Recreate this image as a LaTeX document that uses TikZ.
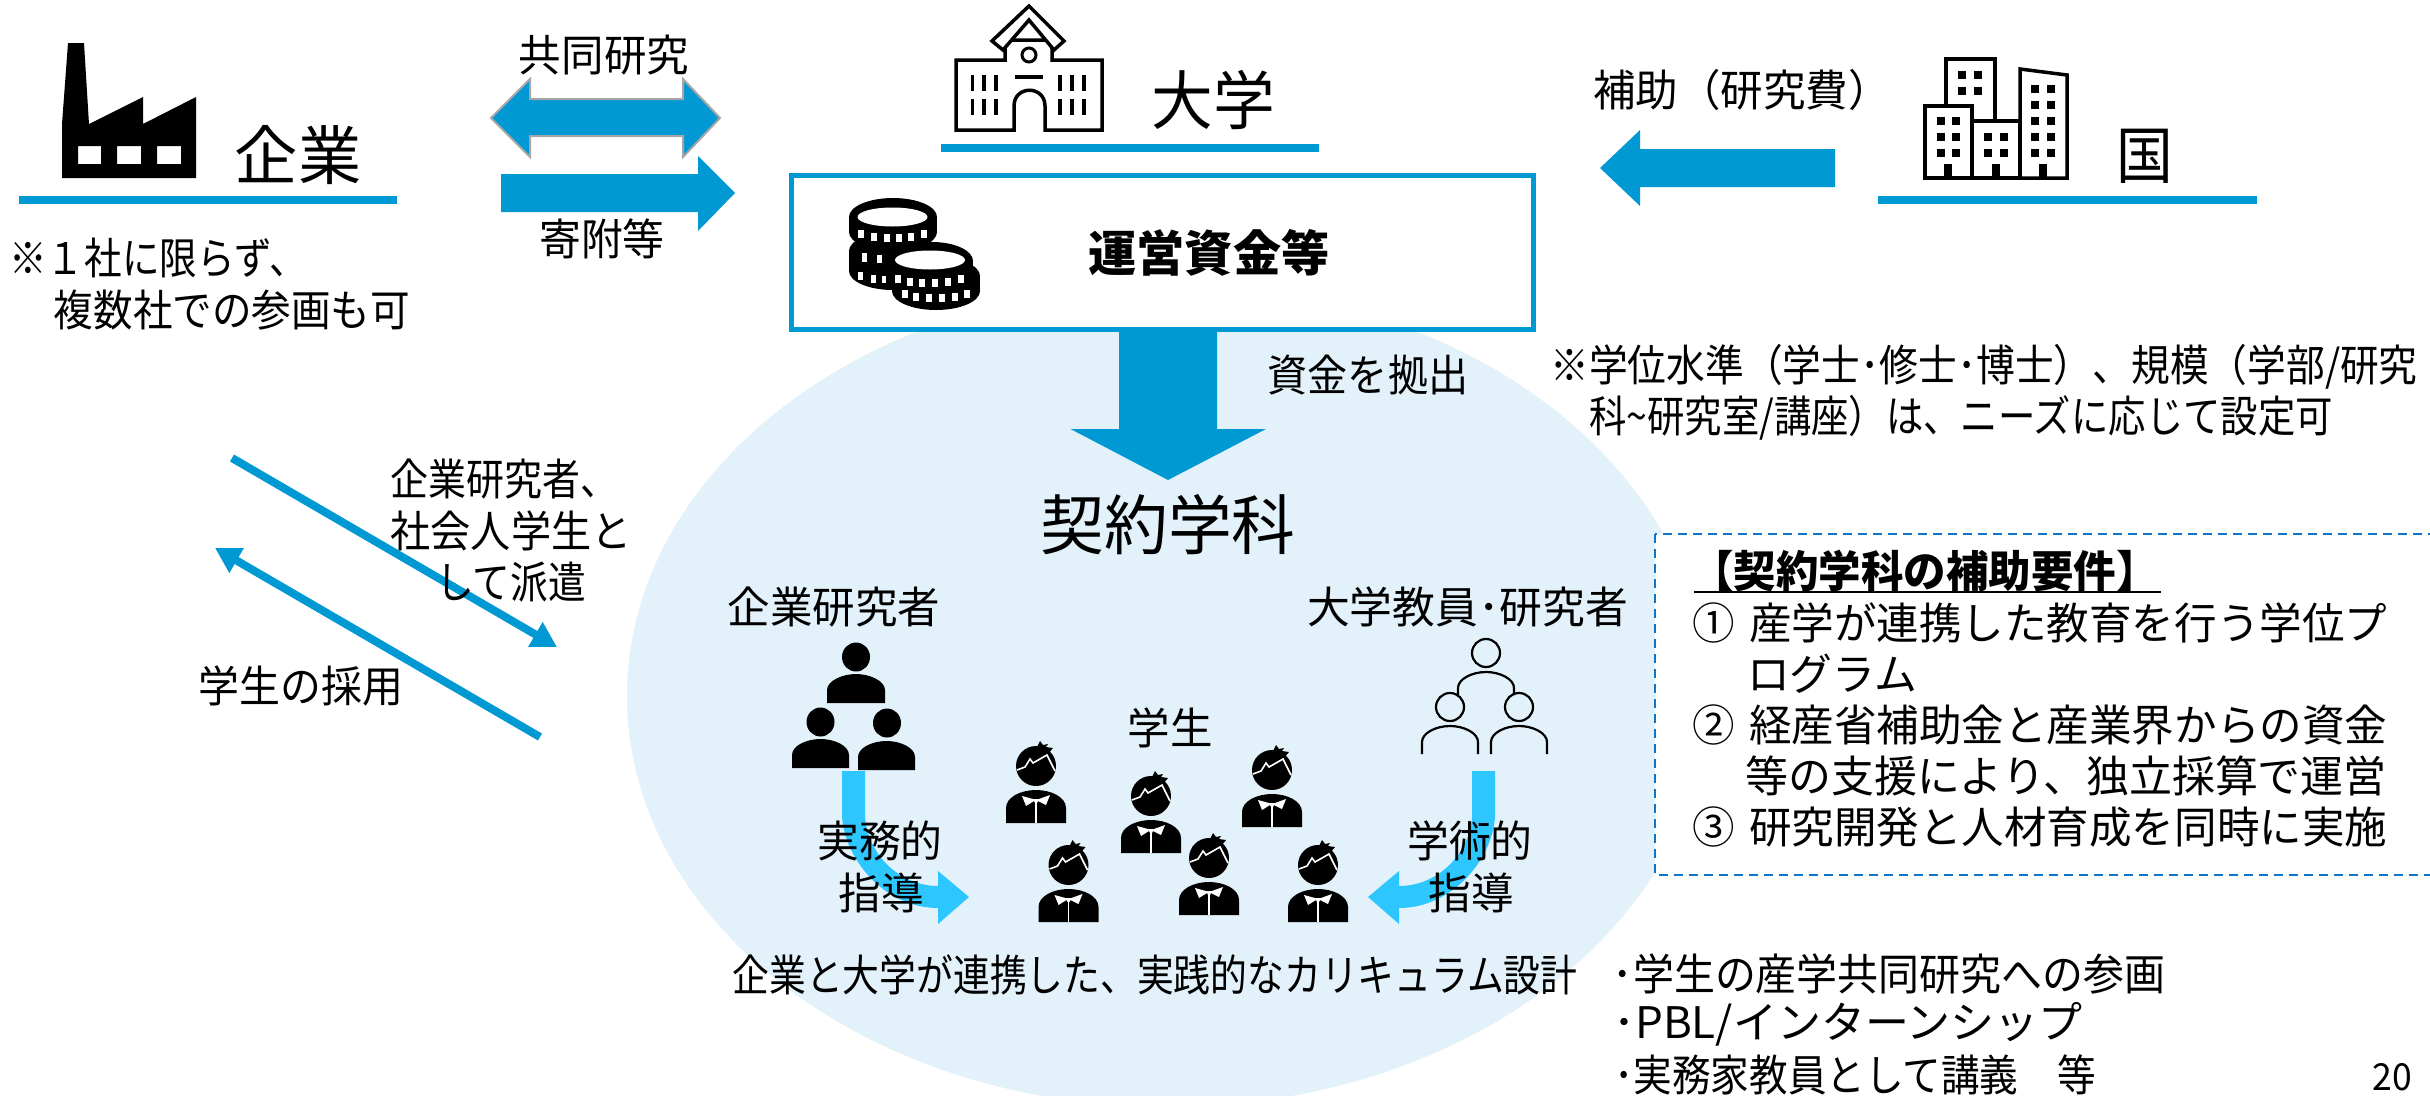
\documentclass[tikz,border=0pt]{standalone}
\usepackage{graphicx}
\usepackage{fontspec}
\setmainfont{Noto Sans CJK JP}
\usetikzlibrary{arrows.meta}
\definecolor{mainblue}{HTML}{0099D4}
\definecolor{paleblue}{HTML}{E3F2FA}
\definecolor{cyanarrow}{HTML}{2DC6FF}
\definecolor{dashblue}{HTML}{0F74C8}
\newcommand{\TT}[3]{\resizebox{1.012\dimexpr #1pt\relax}{\height}{\fontsize{\fpeval{#2*1.035}}{#2}\selectfont #3}}
\newcommand{\studentfig}[2]{%
\begin{scope}[shift={(#1,#2)}]
\fill[black] (-30,0) -- (-30,-15) .. controls (-30,-26) and (-15,-33) .. (0,-33) .. controls (15,-33) and (30,-26) .. (30,-15) -- (30,0) -- cycle;
\fill[white] (-14,-27) -- (-3,-24) -- (3,-24) -- (14,-28) -- (10,-18) -- (2,-22) -- (1,-20) -- (-1,-20) -- (-2,-22) -- (-10,-17) -- cycle;
\draw[white,line width=1.5pt] (0,-20) -- (0,0);
\fill[black] (0,-57) circle [radius=20pt];
\fill[black] (0,-74) -- (4,-82) -- (7,-78) -- (12,-79) -- (10,-76) -- (17,-75) -- (12,-69) -- cycle;
\draw[white,line width=1.6pt] (-19,-53) -- (-11,-56) -- (-6,-64) -- (-3,-60) -- (11,-68) -- (19,-52);
\end{scope}}
\newcommand{\coinbody}[4]{\fill[black] (#1,#2) ellipse [x radius=#3 pt,y radius=19pt];
\fill[black] (#1,#2+#4) ellipse [x radius=#3 pt,y radius=19pt];
\fill[black] (#1-#3,#2) rectangle (#1+#3,#2+#4);}
\newcommand{\coinrim}[4]{\foreach \dx in {#4}{\pgfmathsetmacro{\yy}{#2+#3*sqrt(1-(\dx/36)*(\dx/36))}\fill[white] (#1+\dx-2.7,\yy-4) rectangle (#1+\dx+2.7,\yy+4);}}
\tikzset{
 lbl/.style={inner sep=0pt,outer sep=0pt,text=black},
 blockarrow/.style={fill=mainblue,draw=none},
 outlinearrow/.style={fill=mainblue,draw=black!35,line width=2pt},
 headline/.style={fill=mainblue,draw=none},
 thinarrow/.style={draw=mainblue,line width=8pt,-{Triangle[length=25pt,width=27pt]},shorten >=0pt},
 iconline/.style={draw=black,line width=3.5pt,fill=white,line join=miter},
 personline/.style={draw=black,line width=2.2pt},
 curvearrow/.style={fill=cyanarrow,draw=none},
}
\begin{document}
\begin{tikzpicture}[x=1pt,y=-1pt]
\useasboundingbox (0,0) rectangle (2430,1095);
\fill[white] (0,0) rectangle (2430,1095);
% pale ellipse
\fill[paleblue] (1167,696) ellipse [x radius=540pt,y radius=411pt];
% factory
\fill[black,even odd rule] (62,178) -- (62,124) -- (68,43) -- (84,43) -- (89,124) -- (143,97) -- (143,124) -- (196,97) -- (196,178) -- cycle
 (78,146) rectangle (101,164) (117,146) rectangle (141,164) (157,146) rectangle (181,164);
\node[lbl] (kigyo) at (298,155) {\TT{125}{62}{企業}};
\fill[headline] (19,196) rectangle (397,204);
% joint research arrows
\node[lbl] (kyodo) at (604,55) {\TT{168}{42}{共同研究}};
\path[outlinearrow] (491,118) -- (530,79) -- (530,99) -- (683,99) -- (683,79) -- (720,118) -- (683,157) -- (683,136) -- (530,136) -- (530,157) -- cycle;
\path[blockarrow] (501,174) -- (698,174) -- (698,156) -- (735,193) -- (698,231) -- (698,212) -- (501,212) -- cycle;
\node[lbl] (kifu) at (602,239) {\TT{124}{42}{寄附等}};
\node[lbl] (note1a) at (158,258) {\TT{294}{42}{※１社に限らず、}};
\node[lbl] (note1b) at (232,310) {\TT{352}{42}{複数社での参画も可}};
% university
\path[iconline] (956,130) -- (956,60) -- (1005,60) -- (1005,40) -- (1052,40) -- (1052,60) -- (1102,60) -- (1102,130) -- (1045,130) -- (1045,106) .. controls (1045,85) and (1014,85) .. (1014,106) -- (1014,130) -- cycle;
\path[iconline] (1029,6) -- (1064,41) -- (1054,50) -- (1029,20) -- (1003,50) -- (992,41) -- cycle;
\draw[black,line width=3pt] (1029,55) ellipse [x radius=7pt,y radius=7pt];
\foreach \bx in {972.5,984,996,1060,1072,1084}{\draw[black,line width=3.5pt] (\bx,75) -- (\bx,91) (\bx,99) -- (\bx,115);}
\draw[black,line width=4pt] (1015,77) -- (1043,77);
\node[lbl] (daigaku) at (1213,100) {\TT{122}{62}{大学}};
\fill[headline] (941,144) rectangle (1319,152);
% funds box
\draw[mainblue,line width=5pt,fill=white] (791,175) rectangle (1533,329);
\coinbody{893}{217}{44}{15}
\coinbody{893}{251}{44}{20}
\coinbody{932}{261}{41}{15}
\coinbody{936}{276}{44}{15}
\fill[white] (892.5,217) ellipse [x radius=35pt,y radius=9.5pt];
\fill[white] (930,260) ellipse [x radius=35pt,y radius=9.5pt];
\coinrim{893}{230}{8}{-32,-19,-6,6,18,31}
\coinrim{930}{275}{8}{-32,-20,-8,5,18,31}
\coinrim{936}{290}{8}{-31,-20,-7,6,19,31}
\fill[white] (862,253) rectangle (867,262);
\fill[white] (877,255) rectangle (882,263);
\fill[white] (857.5,272) rectangle (862.5,280);
\fill[white] (871,275) rectangle (876,283);
\fill[white] (882,276) rectangle (886,283);
\node[lbl,font=\bfseries] (unei) at (1209,252.5) {\TT{238}{47}{運営資金等}};
% funding arrow
\path[blockarrow] (1119,331) -- (1217,331) -- (1217,429) -- (1266,429) -- (1168,480) -- (1070.5,429) -- (1119,429) -- cycle;
\node[lbl] (kyoshutsu) at (1368,375) {\TT{198}{42}{資金を拠出}};
\node[lbl] (keiyaku) at (1168,525) {\TT{252}{63}{契約学科}};
% government
\node[lbl] (hojo) at (1742,90) {\TT{294}{42}{補助（研究費）}};
\path[blockarrow] (1835,149) -- (1640,149) -- (1640,130) -- (1600,168) -- (1640,206) -- (1640,187) -- (1835,187) -- cycle;
\path[iconline] (1946,108) -- (1946,59) -- (1995,59) -- (1995,122) -- (1946,122) -- cycle;
\path[iconline] (1925,178) -- (1925,106) -- (1972,106) -- (1972,178) -- cycle;
\path[iconline] (1972,178) -- (1972,121) -- (2020,121) -- (2020,178) -- cycle;
\path[iconline] (2020,178) -- (2020,69) -- (2067,75) -- (2067,178) -- cycle;
\foreach \wx/\wy in {1962/75,1978/75,1962/91,1978/91,1941/121,1956/121,1941/137,1956/137,1941/153,1956/153,1988/137,2004/137,1988/153,2004/153,2035/89,2051/89,2035/105,2051/105,2035/121,2051/121,2035/137,2051/137,2035/153,2051/153}{\fill[black] (\wx-4,\wy-4) rectangle (\wx+4,\wy+4);}
\foreach \dx in {1944,1992,2039}{\fill[black] (\dx,164) rectangle (\dx+8,178);}
\node[lbl] (kuni) at (2145,156) {\TT{56}{60}{国}};
\fill[headline] (1878,196) rectangle (2257,204);
% notes
\node[lbl] (note2a) at (1984,367) {\TT{857}{42}{※学位水準（学士･修士･博士）、規模（学部/研究}};
\node[lbl] (note2b) at (1961,418) {\TT{735}{42}{科\textasciitilde 研究室/講座）は、ニーズに応じて設定可}};
% diagonal arrows
\coordinate (dia1s) at (232,458);
\coordinate (dia1e) at (557,647);
\coordinate (dia2s) at (540,737);
\coordinate (dia2e) at (215,548);
\draw[thinarrow] (dia1s) -- (dia1e);
\draw[thinarrow] (dia2s) -- (dia2e);
\node[lbl] (haken1) at (504.5,479) {\TT{225}{42}{企業研究者、}};
\node[lbl] (haken2) at (511,531) {\TT{238}{42}{社会人学生と}};
\node[lbl] (haken3) at (511,582) {\TT{148}{42}{して派遣}};
\node[lbl] (saiyo) at (301,686) {\TT{202}{42}{学生の採用}};
% contract dept people
\node[lbl] (kenkyusha) at (834,607) {\TT{210}{42}{企業研究者}};
\node[lbl] (kyoin) at (1467.5,607) {\TT{317}{42}{大学教員･研究者}};
\fill[black] (856,657) ellipse [x radius=14pt,y radius=14.5pt];
\fill[black] (827,703) -- (827,690) .. controls (827,681) and (842,674) .. (856,674) .. controls (870,674) and (885,681) .. (885,690) -- (885,703) -- cycle;
\fill[black] (820.5,722) ellipse [x radius=14pt,y radius=14.5pt];
\fill[black] (792,768) -- (792,755) .. controls (792,746) and (806,739) .. (820.5,739) .. controls (835,739) and (849,746) .. (849,755) -- (849,768) -- cycle;
\fill[black] (887,723) ellipse [x radius=14pt,y radius=14.5pt];
\fill[black] (858,770) -- (858,757) .. controls (858,748) and (872,741) .. (886.5,741) .. controls (901,741) and (915,748) .. (915,757) -- (915,770) -- cycle;
\draw[personline] (1486,653) ellipse [x radius=14pt,y radius=14pt];
\draw[personline] (1458,695) -- (1458,688) .. controls (1458,679) and (1472,672) .. (1486,672) .. controls (1500,672) and (1514,679) .. (1514,688) -- (1514,695);
\draw[personline] (1450,707) ellipse [x radius=14pt,y radius=14pt];
\draw[personline] (1519,707) ellipse [x radius=14pt,y radius=14pt];
\draw[personline] (1422,754) -- (1422,742) .. controls (1422,733) and (1436,726) .. (1450,726) .. controls (1464,726) and (1478,733) .. (1478,742) -- (1478,754);
\draw[personline] (1491,754) -- (1491,742) .. controls (1491,733) and (1505,726) .. (1519,726) .. controls (1533,726) and (1547,733) .. (1547,742) -- (1547,754);
\node[lbl] (gakusei) at (1170,728) {\TT{84}{42}{学生}};
\studentfig{1036}{823}
\studentfig{1151}{853}
\studentfig{1272}{827}
\studentfig{1068.5}{922}
\studentfig{1209}{915}
\studentfig{1318}{922}
% curved arrows
\path[curvearrow] (842,771) -- (842,817) .. controls (845,860) and (885,908) .. (938,908) -- (938,924) -- (969,897) -- (938,871) -- (938,886) .. controls (900,886) and (868,855) .. (865,817) -- (865,771) -- cycle;
\path[curvearrow] (1495,771) -- (1495,817) .. controls (1492,860) and (1452,908) .. (1399,908) -- (1399,924) -- (1368,897) -- (1399,871) -- (1399,886) .. controls (1437,886) and (1469,855) .. (1472,817) -- (1472,771) -- cycle;
\node[lbl] (jitsumu) at (880,841) {\TT{124}{42}{実務的}};
\node[lbl] (shido1) at (881,893) {\TT{84}{42}{指導}};
\node[lbl] (gakujutsu) at (1470,841) {\TT{124}{42}{学術的}};
\node[lbl] (shido2) at (1471,893) {\TT{84}{42}{指導}};
\node[lbl] (curriculum) at (1155,975) {\TT{835}{42}{企業と大学が連携した、実践的なカリキュラム設計}};
% requirements box
\draw[dashblue,line width=2.5pt,dash pattern=on 9pt off 6pt,fill=white] (1655,534) rectangle (2440,875);
\node[lbl,font=\bfseries] (reqtitle) at (1925,571) {\TT{462}{42}{【契約学科の補助要件】}};
\coordinate (ulA) at (1694,592);
\coordinate (ulB) at (2161,592);
\draw[black,line width=2.5pt] (ulA) -- (ulB);
\node[lbl] (req1) at (2040,623) {\TT{686}{42}{①\hspace{14pt}産学が連携した教育を行う学位プ}};
\node[lbl] (req1b) at (1832,674) {\TT{168}{42}{ログラム}};
\node[lbl] (req2) at (2040,725) {\TT{686}{42}{②\hspace{14pt}経産省補助金と産業界からの資金}};
\node[lbl] (req2b) at (2066,776) {\TT{634}{42}{等の支援により、独立採算で運営}};
\node[lbl] (req3) at (2040,827) {\TT{686}{42}{③\hspace{14pt}研究開発と人材育成を同時に実施}};
% bottom list
\node[lbl] (list1) at (1889,974) {\TT{546}{42}{･学生の産学共同研究への参画}};
\node[lbl] (list2) at (1848,1024) {\TT{464}{42}{･PBL/インターンシップ}};
\node[lbl] (list3) at (1855,1075) {\TT{476}{42}{･実務家教員として講義　等}};
\node[lbl] (pageno) at (2392,1077) {\TT{39}{36}{20}};
\end{tikzpicture}
\end{document}
